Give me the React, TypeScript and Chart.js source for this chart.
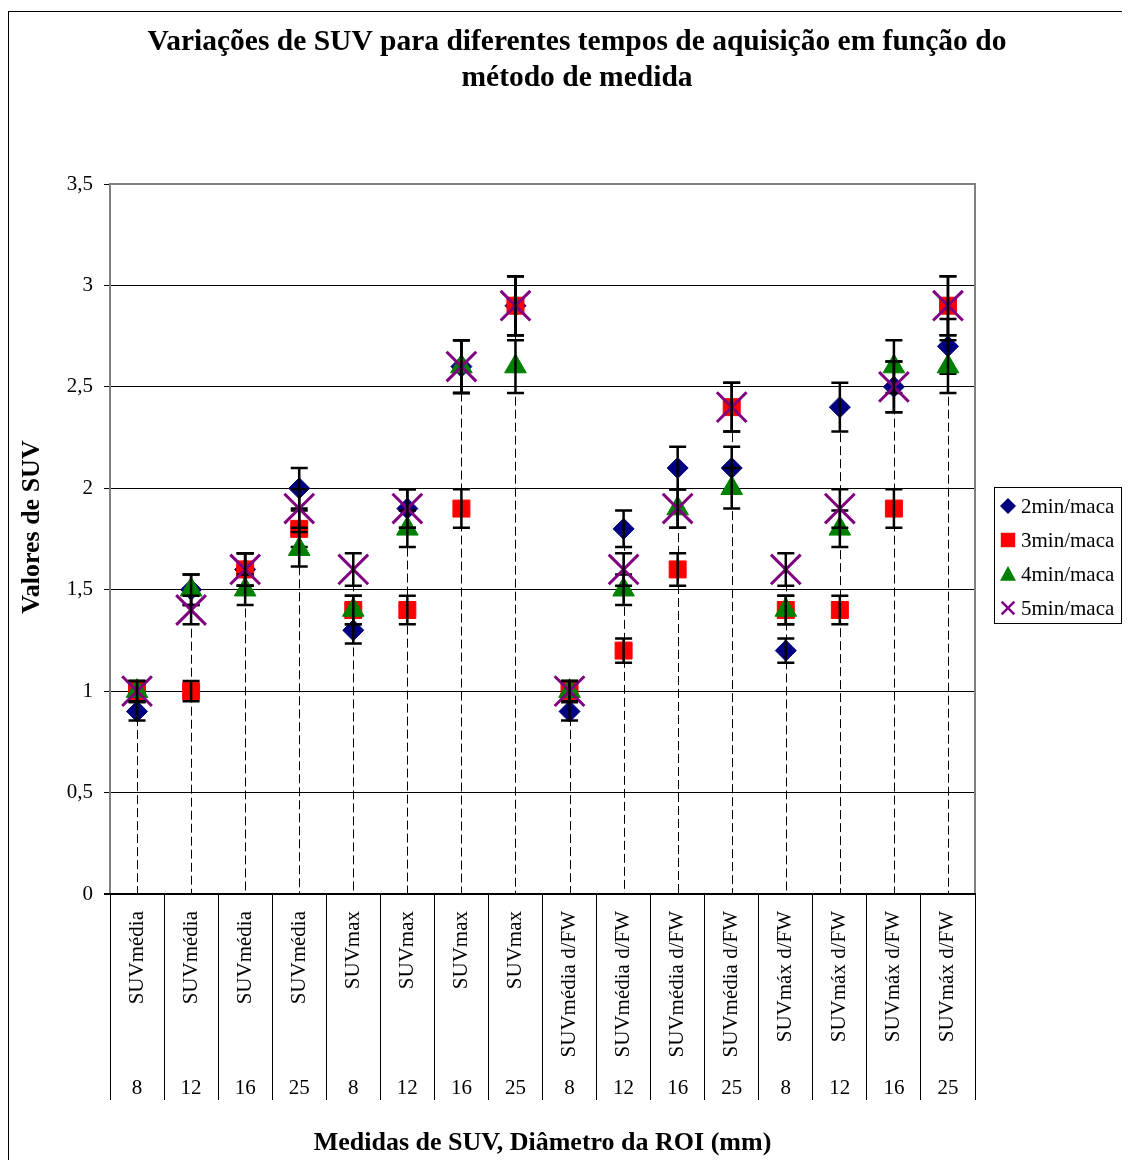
import React, { useEffect, useRef } from 'react';
import { Chart, registerables } from 'chart.js';

Chart.register(...registerables);

const methodLabels = [
  'SUVmédia', 'SUVmédia', 'SUVmédia', 'SUVmédia',
  'SUVmax', 'SUVmax', 'SUVmax', 'SUVmax',
  'SUVmédia d/FW', 'SUVmédia d/FW', 'SUVmédia d/FW', 'SUVmédia d/FW',
  'SUVmáx d/FW', 'SUVmáx d/FW', 'SUVmáx d/FW', 'SUVmáx d/FW',
];
const roiDiameters = ['8', '12', '16', '25', '8', '12', '16', '25', '8', '12', '16', '25', '8', '12', '16', '25'];

const seriesNames = ['2min/maca', '3min/maca', '4min/maca', '5min/maca'];
const suv2min = [0.9, 1.5, 1.6, 2.0, 1.3, 1.9, 2.6, 2.9, 0.9, 1.8, 2.1, 2.1, 1.2, 2.4, 2.5, 2.7];
const suv3min = [1.0, 1.0, 1.6, 1.8, 1.4, 1.4, 1.9, 2.9, 1.0, 1.2, 1.6, 2.4, 1.4, 1.4, 1.9, 2.9];
const suv4min = [1.0, 1.5, 1.5, 1.7, 1.4, 1.8, 2.6, 2.6, 1.0, 1.5, 1.9, 2.0, 1.4, 1.8, 2.6, 2.6];
const suv5min = [1.0, 1.4, 1.6, 1.9, 1.6, 1.9, 2.6, 2.9, 1.0, 1.6, 1.9, 2.4, 1.6, 1.9, 2.5, 2.9];
const errorFraction = 0.05;

const yMin = 0;
const yMax = 3.5;
const yStep = 0.5;

const titleLines = ['Variações de SUV para diferentes tempos de aquisição em função do', 'método de medida'];
const xTitle = 'Medidas de SUV, Diâmetro da ROI (mm)';
const yTitle = 'Valores de SUV';

const colors = ['#000080', '#FF0000', '#008000', '#800080'];
const styles = ['rectRot', 'rect', 'triangle', 'crossRot'];
const radii = [10.5, 12, 12.5, 21];

const FONT = "'Liberation Serif', 'Times New Roman', serif";

function drawMarker(ctx: CanvasRenderingContext2D, style: string, x: number, y: number, s: number, color: string) {
  ctx.save();
  ctx.fillStyle = color;
  ctx.strokeStyle = color;
  ctx.beginPath();
  if (style === 'rectRot') {
    ctx.moveTo(x - s, y); ctx.lineTo(x, y - s); ctx.lineTo(x + s, y); ctx.lineTo(x, y + s); ctx.closePath(); ctx.fill();
  } else if (style === 'rect') {
    ctx.rect(x - s * 0.9, y - s * 0.9, s * 1.8, s * 1.8); ctx.fill();
  } else if (style === 'triangle') {
    ctx.moveTo(x, y - s); ctx.lineTo(x + s, y + s * 0.85); ctx.lineTo(x - s, y + s * 0.85); ctx.closePath(); ctx.fill();
  } else {
    ctx.lineWidth = 2.5;
    ctx.moveTo(x - s * 0.8, y - s * 0.8); ctx.lineTo(x + s * 0.8, y + s * 0.8);
    ctx.moveTo(x + s * 0.8, y - s * 0.8); ctx.lineTo(x - s * 0.8, y + s * 0.8);
    ctx.stroke();
  }
  ctx.restore();
}

const customPlugin = {
  id: 'excelStyle',
  beforeDatasetsDraw(chart: any) {
    const { ctx, chartArea } = chart;
    const xs = chart.scales.x;
    const ys = chart.scales.y;
    const all = [suv2min, suv3min, suv4min, suv5min];
    ctx.save();
    ctx.strokeStyle = '#000';
    ctx.lineWidth = 1;
    ctx.setLineDash([9, 4]);
    for (let i = 0; i < methodLabels.length; i++) {
      const maxV = Math.max(...all.map((s) => s[i]));
      const x = Math.round(xs.getPixelForValue(i)) + 0.5;
      ctx.beginPath();
      ctx.moveTo(x, ys.getPixelForValue(maxV));
      ctx.lineTo(x, ys.getPixelForValue(0));
      ctx.stroke();
    }
    ctx.setLineDash([]);
    ctx.strokeStyle = '#808080';
    ctx.lineWidth = 2;
    ctx.beginPath();
    ctx.moveTo(chartArea.left, chartArea.bottom);
    ctx.lineTo(chartArea.left, chartArea.top);
    ctx.lineTo(chartArea.right, chartArea.top);
    ctx.lineTo(chartArea.right, chartArea.bottom);
    ctx.stroke();
    ctx.strokeStyle = '#000';
    ctx.beginPath();
    ctx.moveTo(chartArea.left - 6, chartArea.bottom);
    ctx.lineTo(chartArea.right + 1, chartArea.bottom);
    ctx.stroke();
    ctx.restore();
  },
  afterDatasetDraw(chart: any, args: any) {
    const { ctx } = chart;
    const ys = chart.scales.y;
    const ds = chart.data.datasets[args.index];
    ctx.save();
    ctx.strokeStyle = '#000';
    ctx.lineWidth = 2.5;
    args.meta.data.forEach((pt: any, i: number) => {
      const v = ds.data[i];
      const yt = ys.getPixelForValue(v * (1 + errorFraction));
      const yb = ys.getPixelForValue(v * (1 - errorFraction));
      const x = pt.x;
      ctx.beginPath();
      ctx.moveTo(x, yt); ctx.lineTo(x, yb);
      ctx.moveTo(x - 8.5, yt); ctx.lineTo(x + 8.5, yt);
      ctx.moveTo(x - 8.5, yb); ctx.lineTo(x + 8.5, yb);
      ctx.stroke();
    });
    ctx.restore();
  },
  afterDraw(chart: any) {
    const { ctx, chartArea, width } = chart;
    const xs = chart.scales.x;
    ctx.save();
    ctx.fillStyle = '#000';
    ctx.font = `bold 29.5px ${FONT}`;
    ctx.textAlign = 'center';
    ctx.textBaseline = 'middle';
    ctx.fillText(titleLines[0], width / 2, 30);
    ctx.fillText(titleLines[1], width / 2, 66);
    ctx.font = `bold 26px ${FONT}`;
    ctx.fillText(xTitle, (chartArea.left + chartArea.right) / 2, chartArea.bottom + 249);
    ctx.save();
    ctx.translate(23, (chartArea.top + chartArea.bottom) / 2 - 12);
    ctx.rotate(-Math.PI / 2);
    ctx.fillText(yTitle, 0, 0);
    ctx.restore();
    ctx.font = `21px ${FONT}`;
    for (let i = 0; i < methodLabels.length; i++) {
      const x = xs.getPixelForValue(i);
      ctx.save();
      ctx.translate(x, chartArea.bottom + 17);
      ctx.rotate(-Math.PI / 2);
      ctx.textAlign = 'right';
      ctx.textBaseline = 'middle';
      ctx.fillText(methodLabels[i], 0, 0);
      ctx.restore();
      ctx.textAlign = 'center';
      ctx.textBaseline = 'middle';
      ctx.fillText(roiDiameters[i], x, chartArea.bottom + 194);
    }
    const bx = chartArea.right + 19;
    const by = chartArea.top + 303;
    ctx.strokeStyle = '#000';
    ctx.lineWidth = 1;
    ctx.strokeRect(bx + 0.5, by + 0.5, 127, 136);
    ctx.font = `21px ${FONT}`;
    ctx.textAlign = 'left';
    ctx.textBaseline = 'middle';
    seriesNames.forEach((name, k) => {
      const cy = by + 19 + k * 34;
      drawMarker(ctx, styles[k], bx + 14, cy, 8, colors[k]);
      ctx.fillStyle = '#000';
      ctx.fillText(name, bx + 27, cy + 1);
    });
    ctx.restore();
  },
};

export default function App() {
  const canvasRef = useRef<HTMLCanvasElement | null>(null);

  useEffect(() => {
    document.documentElement.style.overflow = 'hidden';
    const canvas = canvasRef.current;
    if (!canvas) return;
    const series = [suv2min, suv3min, suv4min, suv5min];
    const chart = new Chart(canvas, {
      type: 'line',
      data: {
        labels: methodLabels.map((m, i) => `${m} ${roiDiameters[i]}`),
        datasets: series.map((d, k) => ({
          label: seriesNames[k],
          data: d,
          showLine: false,
          pointStyle: styles[k] as any,
          pointRadius: radii[k],
          pointBackgroundColor: colors[k],
          pointBorderColor: colors[k],
          pointBorderWidth: k === 3 ? 3 : 1,
          order: 4 - k,
        })),
      },
      options: {
        responsive: false,
        animation: false,
        events: [],
        layout: { padding: { top: 172, left: 0, right: 170, bottom: 0 } },
        plugins: {
          legend: { display: false },
          title: { display: false },
          tooltip: { enabled: false },
        },
        scales: {
          x: {
            type: 'category',
            offset: true,
            grid: {
              display: true,
              offset: true,
              drawOnChartArea: false,
              drawTicks: true,
              tickLength: 206,
              color: '#000',
              lineWidth: 1,
            },
            border: { display: false },
            ticks: { display: false },
            afterFit(scale: any) {
              scale.height = 278;
              scale.paddingLeft = 0;
              scale.paddingRight = 0;
            },
          },
          y: {
            min: yMin,
            max: yMax,
            grid: {
              color: '#000',
              lineWidth: 1,
              tickLength: 6,
              tickColor: '#000',
            },
            border: { color: '#808080', width: 2 },
            ticks: {
              stepSize: yStep,
              color: '#000',
              padding: 11,
              font: { family: FONT, size: 21 },
              callback: (v: any) => String(v).replace('.', ','),
            },
            afterFit(scale: any) {
              scale.width = 101;
              scale.paddingTop = 0;
              scale.paddingBottom = 0;
            },
          },
        },
      } as any,
      plugins: [customPlugin],
    });
    return () => chart.destroy();
  }, []);

  return (
    <div style={{ paddingTop: 3 }}>
      <div style={{ border: '1px solid #000', width: 1136 }}>
        <canvas ref={canvasRef} width={1136} height={1160} style={{ display: 'block' }} />
      </div>
    </div>
  );
}
